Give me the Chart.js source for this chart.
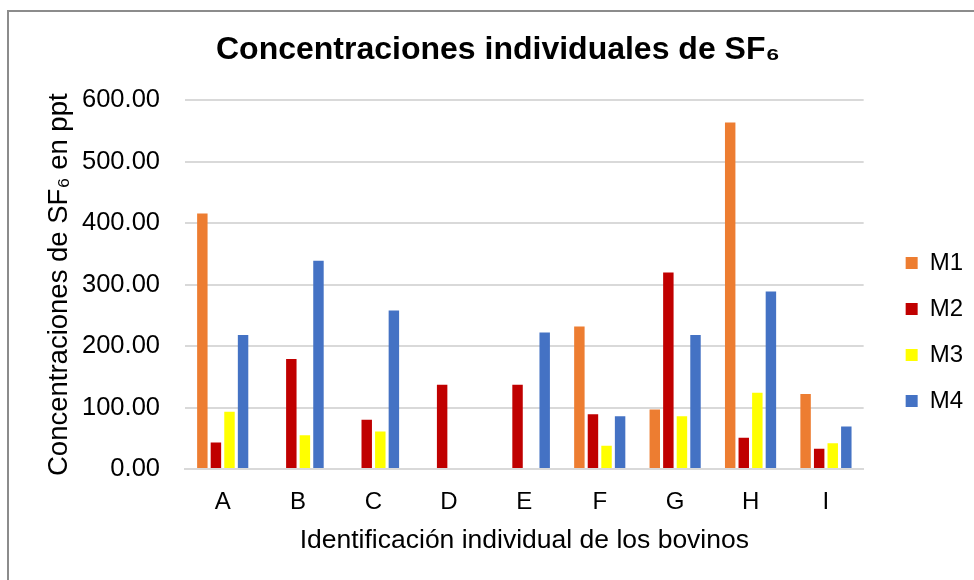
<!DOCTYPE html>
<html>
<head>
<meta charset="utf-8">
<script src="https://cdn.jsdelivr.net/npm/chart.js@4"></script>
<style>
  html, body { margin: 0; padding: 0; background: #ffffff; }
  #wrap { position: relative; width: 974px; height: 580px; overflow: hidden; }
  #frame { position: absolute; left: 7px; top: 10px; width: 1000px; height: 600px;
           border-left: 2px solid #8c8c8c; border-top: 2px solid #8c8c8c; pointer-events: none; }
  canvas { position: absolute; left: 0; top: 0; }
</style>
</head>
<body>
<div id="wrap">
  <canvas id="c" width="974" height="580"></canvas>
  <div id="frame"></div>
</div>
<script>
const categories = ["A", "B", "C", "D", "E", "F", "G", "H", "I"];
const seriesNames = ["M1", "M2", "M3", "M4"];
const m1 = [416, null, null, null, null, 232, 97, 564, 122];
const m2 = [43, 179, 80, 137, 137, 89, 320, 51, 33];
const m3 = [93, 55, 61, null, null, 38, 86, 124, 42];
const m4 = [218, 339, 258, null, 222, 86, 218, 289, 69];
const seriesColors = ["#ED7D31", "#C00000", "#FFFF00", "#4472C4"];
const yTicks = [0, 100, 200, 300, 400, 500, 600];
const chartTitle = "Concentraciones individuales de SF\u2086";
const yTitle = "Concentraciones de SF\u2086 en ppt";
const xTitle = "Identificación individual de los bovinos";

const FONT = "'Liberation Sans', Arial, sans-serif";
const seriesData = [m1, m2, m3, m4];

const legendShift = {
  id: 'legendShift',
  afterLayout(chart) {
    const l = chart.legend;
    if (!l) return;
    l.left += 20; l.right += 20;
    l.top += 42; l.bottom += 42;
  }
};

new Chart(document.getElementById('c'), {
  type: 'bar',
  data: {
    labels: categories,
    datasets: seriesNames.map((n, i) => ({
      label: n,
      data: seriesData[i],
      backgroundColor: seriesColors[i],
      borderWidth: 0,
      categoryPercentage: 0.72,
      barPercentage: 0.77
    }))
  },
  options: {
    responsive: false,
    animation: false,
    devicePixelRatio: 1,
    layout: { padding: { left: 43, right: 21, top: 0, bottom: 0 } },
    plugins: {
      title: {
        display: true,
        text: chartTitle,
        color: '#000000',
        font: { family: FONT, size: 32, weight: 'bold' },
        padding: { top: 31, bottom: 31 }
      },
      legend: {
        display: true,
        position: 'right',
        labels: {
          boxWidth: 12,
          boxHeight: 12,
          padding: 22,
          color: '#000000',
          font: { family: FONT, size: 24 }
        }
      },
      tooltip: { enabled: false }
    },
    scales: {
      x: {
        grid: { display: false },
        border: { display: true, color: '#d9d9d9', width: 2 },
        ticks: { color: '#000000', padding: 11, font: { family: FONT, size: 24 } },
        title: {
          display: true,
          text: xTitle,
          color: '#000000',
          font: { family: FONT, size: 26.5 },
          padding: { top: 0, bottom: 23 }
        },
        afterFit(scale) { scale.height = 111; }
      },
      y: {
        min: 0,
        max: 600,
        afterBuildTicks(scale) { scale.ticks = yTicks.map(v => ({ value: v })); },
        grid: { color: '#d9d9d9', lineWidth: 2, drawTicks: false },
        border: { display: false },
        ticks: {
          color: '#000000',
          padding: 25,
          font: { family: FONT, size: 25.5 },
          callback: (v) => Number(v).toFixed(2)
        },
        title: {
          display: true,
          text: yTitle,
          color: '#000000',
          font: { family: FONT, size: 27.5 },
          padding: { top: 0, bottom: 0 }
        },
        afterFit(scale) { scale.width = 142; }
      }
    }
  },
  plugins: [legendShift]
});
</script>
</body>
</html>
